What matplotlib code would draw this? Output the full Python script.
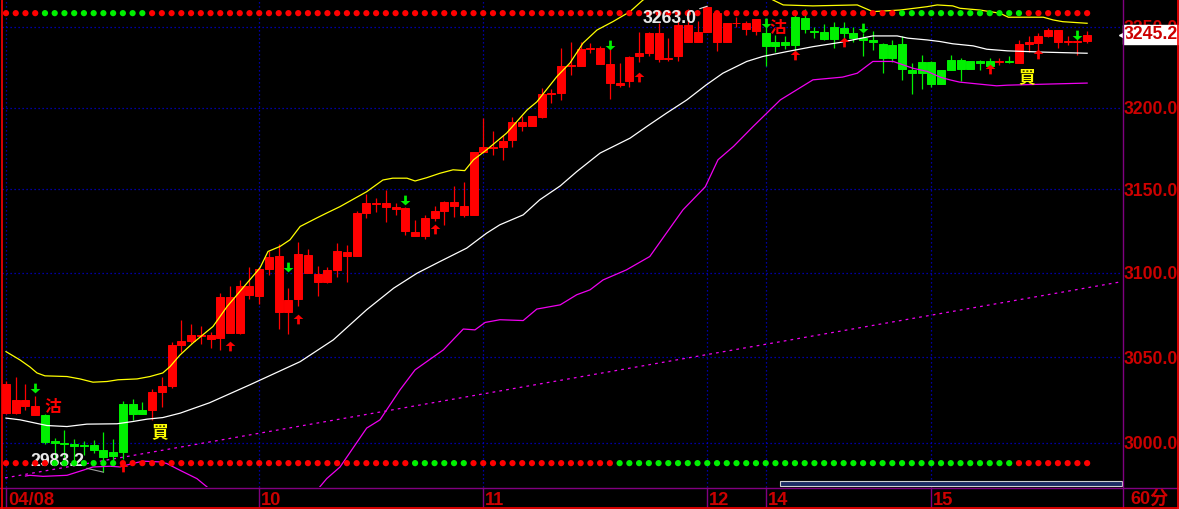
import matplotlib
matplotlib.use('Agg')
import matplotlib.pyplot as plt
import matplotlib.ticker as mticker
from matplotlib.path import Path
from matplotlib.transforms import blended_transform_factory, offset_copy
from matplotlib.patches import Rectangle
from matplotlib.lines import Line2D
import numpy as np

# ---------------- data ----------------
opens = [3017.5, 3017.5, 3021.5, 3016.3, 3016.3, 3001.2, 3000.2, 2999.6, 2999.0, 2998.8,
         2995.9, 2994.9, 2994.9, 3022.7, 3016.9, 3019.2, 3029.3, 3032.8, 3057.2, 3059.5,
         3062.7, 3060.7, 3061.5, 3085.2, 3064.1, 3092.1, 3086.3, 3102.2, 3110.0, 3076.3,
         3084.2, 3110.6, 3099.2, 3094.6, 3101.6, 3112.4, 3110.0, 3135.6, 3141.2, 3139.6,
         3139.2, 3138.8, 3124.4, 3122.0, 3133.0, 3137.0, 3142.4, 3140.0, 3134.6, 3173.0,
         3175.5, 3175.5, 3180.2, 3191.4, 3188.8, 3194.1, 3208.4, 3209.2, 3225.8, 3225.8,
         3236.1, 3237.1, 3227.0, 3215.1, 3216.1, 3231.6, 3234.0, 3246.4, 3229.9, 3231.6,
         3251.3, 3240.9, 3247.1, 3258.6, 3240.9, 3252.3, 3252.7, 3247.7, 3246.0, 3238.3,
         3240.9, 3238.8, 3255.8, 3247.5, 3247.0, 3242.3, 3249.6, 3246.4, 3243.3, 3242.0,
         3239.5, 3230.5, 3239.5, 3223.3, 3221.2, 3227.9, 3214.6, 3223.3, 3229.6, 3223.8,
         3228.5, 3225.8, 3228.2, 3229.0, 3227.5, 3239.5, 3239.9, 3244.4, 3248.1, 3240.3,
         3241.5, 3241.5]
highs = [3036.0, 3038.4, 3034.3, 3027.4, 3016.5, 3002.9, 3007.6, 3002.2, 3001.2, 3001.7,
         3006.6, 3002.3, 3024.4, 3025.6, 3024.0, 3031.4, 3038.6, 3059.1, 3072.0, 3069.6,
         3068.0, 3065.0, 3087.8, 3091.7, 3095.6, 3103.2, 3103.5, 3112.6, 3117.0, 3090.8,
         3118.4, 3114.2, 3104.0, 3103.2, 3117.6, 3116.4, 3137.0, 3147.2, 3144.6, 3149.6,
         3142.0, 3139.6, 3131.6, 3134.6, 3140.0, 3143.2, 3152.1, 3154.7, 3173.0, 3193.6,
         3185.7, 3183.2, 3194.1, 3194.5, 3194.5, 3212.0, 3211.3, 3237.1, 3240.3, 3240.9,
         3239.9, 3238.0, 3237.7, 3227.5, 3232.0, 3247.1, 3247.1, 3252.7, 3243.3, 3254.4,
         3261.0, 3253.9, 3263.0, 3258.6, 3252.3, 3256.1, 3254.0, 3255.0, 3250.0, 3245.0,
         3244.4, 3260.6, 3261.1, 3250.2, 3251.9, 3253.3, 3253.3, 3250.2, 3246.2, 3247.5,
         3239.9, 3241.9, 3244.4, 3227.5, 3232.6, 3228.5, 3223.3, 3232.6, 3230.6, 3228.5,
         3229.6, 3230.6, 3230.6, 3232.0, 3241.9, 3244.4, 3246.0, 3249.2, 3248.1, 3244.4,
         3242.5, 3247.5]
lows = [3017.0, 3017.0, 3019.2, 3016.0, 2999.4, 2990.1, 2988.9, 2989.1, 2993.0, 2994.2,
        2983.2, 2988.4, 2991.0, 3013.4, 3016.9, 3013.4, 3021.1, 3032.0, 3053.2, 3058.2,
        3057.8, 3055.2, 3054.2, 3064.1, 3063.7, 3084.4, 3081.4, 3098.6, 3066.6, 3063.7,
        3080.2, 3099.5, 3086.2, 3093.7, 3097.3, 3094.6, 3109.6, 3132.6, 3136.6, 3130.6,
        3134.6, 3122.6, 3122.0, 3120.0, 3131.2, 3128.6, 3133.6, 3133.6, 3134.6, 3172.1,
        3171.0, 3168.0, 3175.5, 3185.4, 3188.8, 3193.8, 3202.7, 3204.7, 3220.2, 3225.8,
        3233.6, 3227.0, 3205.1, 3212.6, 3212.6, 3227.9, 3232.0, 3227.9, 3228.5, 3228.5,
        3240.9, 3240.9, 3246.7, 3235.3, 3240.9, 3249.8, 3245.0, 3245.0, 3225.8, 3234.6,
        3236.1, 3232.6, 3246.0, 3243.0, 3241.9, 3237.1, 3243.0, 3240.9, 3232.0, 3235.6,
        3221.6, 3227.9, 3216.7, 3208.4, 3211.3, 3212.6, 3214.6, 3223.3, 3216.5, 3223.8,
        3223.3, 3225.8, 3226.4, 3227.5, 3227.5, 3234.6, 3235.6, 3244.0, 3237.1, 3238.8,
        3232.6, 3239.9]
closes = [3034.0, 3025.0, 3025.0, 3021.5, 3000.8, 3000.0, 2999.2, 2998.4, 2998.4, 2995.9,
          2992.0, 2992.4, 3022.7, 3016.9, 3019.2, 3029.3, 3032.8, 3057.2, 3059.5, 3062.7,
          3062.1, 3062.7, 3085.2, 3064.1, 3092.1, 3086.8, 3102.2, 3109.2, 3076.3, 3083.8,
          3111.2, 3099.6, 3094.6, 3101.6, 3112.6, 3110.0, 3136.0, 3141.6, 3142.0, 3141.6,
          3138.4, 3124.6, 3122.0, 3133.0, 3137.0, 3142.6, 3140.0, 3134.6, 3173.0, 3175.5,
          3175.0, 3179.6, 3191.4, 3188.8, 3194.5, 3208.4, 3208.9, 3225.8, 3226.4, 3236.1,
          3237.1, 3227.0, 3215.4, 3214.0, 3231.2, 3234.0, 3246.0, 3229.9, 3230.9, 3251.3,
          3240.9, 3247.1, 3262.7, 3240.9, 3252.3, 3252.7, 3248.6, 3254.8, 3238.3, 3240.9,
          3238.8, 3256.4, 3248.6, 3246.7, 3242.5, 3250.2, 3246.4, 3243.3, 3241.9, 3240.3,
          3230.9, 3238.8, 3223.8, 3221.6, 3227.9, 3214.6, 3223.3, 3229.6, 3223.8, 3228.5,
          3227.5, 3228.5, 3229.0, 3227.9, 3239.5, 3240.3, 3244.4, 3248.1, 3240.3, 3241.5,
          3240.9, 3245.2]
# candle colour per bar (r = red, g = green)
candle_colors = ("rrrr" "ggggggggggg"
                 "rrrrrrrrrrrrrrrrrrrrrrrrrrrrrrrrrrrrrrrrrrrrrrrrrrrrrrrrrrrrrrr"
                 "gggggggggggggggggggggggg" "r" "g" "rrrrrrrr")
# signal dots, top and bottom rows
top_dots = ("rrrr" "ggggggggggg"
            "rrrrrrrrrrrrrrrrrrrrrrrrrrrrrrrrrrrrrrrrrrrrrrrrrrrrrrrrrrrrrrrrrrrrrrrrrrrrr"
            "ggggggggggggg" "rrrrrrr")
bottom_dots = ("rrrrr" "ggggggg" "rrrrrrrrrrrrrrrrrrrrrrrrrrrrrr" "gggggg"
               "rrrrrrrrrrrrrrr" "ggggggggggggggggggggggggggggggggggggggggg" "rrrrrrrr")

# bands (bar position, value)
upper_i = [0, 1.44, 2.46, 3.18, 4.0, 6.26, 7.6, 8.93, 10.37, 11.5, 13.45, 14.78, 16.1, 16.84,
           17.86, 19.2, 21.25, 22.7, 24.33, 26.08, 26.9, 28.13, 29.16, 30.2, 31.93, 32.96,
           34.3, 37.03, 38.7, 39.7, 41.17, 42.0, 43.2, 44.56, 45.9, 47.1, 48.0, 49.35, 51.4,
           53.5, 54.5, 56.57, 57.9, 59.24, 60.68, 62.3, 64.07, 65.4, 67, 70, 73, 76, 78.75,
           79.8, 82.85, 87.4, 89.0, 91.8, 94.56, 95.6, 97.2, 97.95, 100.0, 102.05, 102.9,
           106.5, 107.5, 108.5, 111.0]
upper_v = [3053.2, 3048.3, 3044.2, 3040.7, 3039.0, 3038.6, 3037.2, 3035.3, 3035.7, 3036.7,
           3037.2, 3038.6, 3040.7, 3044.4, 3051.2, 3058.3, 3068.0, 3079.8, 3090.9, 3102.8,
           3112.6, 3115.6, 3119.6, 3127.6, 3132.8, 3135.8, 3139.6, 3148.6, 3155.7, 3156.8,
           3156.8, 3155.1, 3157.1, 3159.8, 3161.9, 3161.4, 3168.0, 3174.1, 3184.3, 3198.5,
           3203.5, 3219.2, 3227.5, 3239.9, 3248.1, 3253.3, 3259.6, 3266.9, 3272.0, 3278.0,
           3280.0, 3276.0, 3266.9, 3263.8, 3263.2, 3263.8, 3259.6, 3260.6, 3262.7, 3263.8,
           3263.2, 3261.7, 3260.6, 3258.6, 3256.1, 3256.1, 3254.4, 3253.3, 3252.3]
mid_i = [0, 1.44, 2.77, 4.2, 6.26, 8.3, 11.4, 13.0, 14.5, 16.1, 17.9, 20.9, 25.05, 30.2, 33.6,
         37.03, 39.8, 42.2, 44.56, 47.3, 49.35, 50.7, 53.1, 54.8, 56.9, 58.6, 61.0, 64.07,
         65.8, 67.8, 69.9, 71.9, 73.6, 76.05, 77.7, 80.15, 82.85, 85.6, 89.0, 91.5, 92.6,
         94.56, 95.9, 97.2, 99.3, 100.7, 102.8, 106.5, 111.0]
mid_v = [3014.4, 3013.4, 3011.8, 3010.1, 3009.5, 3010.9, 3011.1, 3012.4, 3013.8, 3014.7,
         3017.3, 3023.3, 3033.8, 3047.3, 3060.1, 3077.9, 3090.7, 3099.6, 3106.6, 3114.6,
         3123.6, 3128.6, 3134.6, 3143.7, 3152.1, 3160.8, 3172.1, 3181.2, 3188.4, 3196.5,
         3204.7, 3214.0, 3221.2, 3228.5, 3231.6, 3234.6, 3237.7, 3240.3, 3244.4, 3244.4,
         3243.0, 3241.9, 3240.9, 3239.5, 3238.2, 3236.1, 3235.1, 3234.3, 3233.6]
lower_i = [2.0, 2.46, 3.8, 6.26, 7.9, 8.93, 10.7, 11.7, 13.0, 14.07, 15.8, 16.5, 17.86, 19.6,
           20.8, 24, 28, 31.5, 32.93, 34.3, 37.03, 38.4, 40.45, 42.0, 44.9, 46.95, 48.15,
           49.2, 50.72, 53.1, 54.5, 56.9, 58.6, 59.96, 61.3, 63.7, 66.1, 67.8, 69.5, 71.8,
           73.1, 74.7, 76.7, 79.5, 82.85, 85.9, 87.4, 89.0, 91.1, 92.1, 93.1, 94.6, 95.9,
           96.9, 97.9, 99.7, 101.7, 102.8, 106.5, 111.0]
lower_v = [2981.0, 2981.4, 2980.8, 2981.4, 2984.3, 2986.2, 2986.6, 2986.2, 2988.2, 2989.5,
           2989.1, 2988.2, 2984.3, 2979.5, 2974.0, 2966.0, 2962.0, 2970.0, 2979.5, 2986.2,
           3008.6, 3013.4, 3030.8, 3042.5, 3054.2, 3066.5, 3066.0, 3070.4, 3072.0, 3071.5,
           3078.3, 3080.8, 3086.8, 3089.7, 3095.6, 3101.6, 3109.6, 3123.6, 3137.6, 3151.6,
           3168.0, 3176.2, 3188.3, 3204.7, 3217.1, 3218.8, 3221.2, 3228.5, 3228.5, 3226.4,
           3224.3, 3222.3, 3218.8, 3217.1, 3215.7, 3214.6, 3213.4, 3213.8, 3214.4, 3215.1]
# dotted trend line end points
trend_i = [-0.1, 114.6]
trend_v = [2979.9, 3094.6]

day_idx = [0, 26, 49, 72, 78, 95]
day_labels = ["04/08", "10", "11", "12", "14", "15"]
yticks = [3000, 3050, 3100, 3150, 3200, 3250]
period_label = "60分"

sell_idx = [3, 29, 41, 62, 78, 88, 110]
sell_price = [3031.7, 3103.1, 3143.5, 3238.8, 3252.2, 3249.1, 3245.0]
buy_idx = [12, 23, 30, 44, 65, 81, 86, 101, 106]
buy_price = [2986.0, 3056.6, 3072.6, 3126.2, 3218.9, 3232.6, 3240.3, 3223.8, 3233.2]
buy_text_idx = [15.8, 104.8]
buy_text_price = [3006.4, 3218.9]
sell_text_idx = [4.8, 79.2]
sell_text_price = [3020.7, 3249.4]
buy_word, sell_word = "買", "沽"

last_price = 3245.2
high_idx, high_val = 72, 3263.0
low_idx, low_val = 10, 2983.2

# ---------------- style ----------------
RED = '#ff0000'
GREEN = '#00f000'
YELLOW = '#ffff00'
MAGENTA = '#f000f0'
GRIDBLUE = '#0000d8'
AXRED = '#cc0000'
PURPLE = '#800080'
LAB = 'Liberation Sans'
CJK = ['Noto Sans CJK TC', 'DejaVu Sans']

W, H = 1179, 509
fig = plt.figure(figsize=(W / 100, H / 100), dpi=100, facecolor='black')
ax = fig.add_axes([2 / W, 22 / H, 1120 / W, 487 / H])
ax.set_facecolor('black')
for s in ax.spines.values():
    s.set_visible(False)

ax.set_yscale('log')
ax.set_ylim(2974.7, 3266.9)
ax.set_xlim(-0.41, 114.58)
ax.yaxis.set_major_locator(mticker.FixedLocator(yticks))
ax.yaxis.set_major_formatter(mticker.FuncFormatter(lambda v, p: f'{v:.1f}'))
ax.yaxis.set_minor_locator(mticker.NullLocator())
ax.yaxis.set_minor_formatter(mticker.NullFormatter())
ax.yaxis.tick_right()
ax.tick_params(axis='y', length=0, pad=0.8, labelcolor=AXRED, labelsize=12.7)
for t in ax.get_yticklabels():
    t.set_fontfamily(LAB)
    t.set_fontweight('bold')
ax.set_xticks([])

tr = blended_transform_factory(ax.transData, ax.transAxes)

# grid
for v in yticks:
    ax.axhline(v, color=GRIDBLUE, lw=0.9, linestyle=(0, (1, 2.2)), zorder=1)
for d in day_idx:
    ax.axvline(d, color=GRIDBLUE, lw=0.9, linestyle=(0, (1, 2.2)), zorder=1)

# trend line
ax.plot(trend_i, trend_v, color=MAGENTA, lw=0.9, linestyle=(0, (2.2, 3.3)), zorder=2)

# candles
n = len(opens)
x = np.arange(n)
o = np.array(opens); c = np.array(closes)
cols = [RED if k == 'r' else GREEN for k in candle_colors]
ax.vlines(x, lows, highs, colors=cols, lw=0.9, zorder=3)
ax.bar(x, np.abs(c - o), bottom=np.minimum(o, c), width=0.82, color=cols,
       edgecolor=cols, linewidth=0.7, zorder=3)

# bands
ax.plot(upper_i, upper_v, color=YELLOW, lw=0.9, zorder=4)
ax.plot(mid_i, mid_v, color='white', lw=0.9, zorder=4)
ax.plot(lower_i, lower_v, color=MAGENTA, lw=0.9, zorder=4)

# low annotation (drawn beneath the dots, as in the reference)
ax.annotate(f'{low_val:.1f}', xy=(low_idx, low_val), xytext=(-33.4, 7.8),
            textcoords='offset points', ha='center', va='center', color='#e8e8e8',
            fontsize=12.7, family=LAB, fontweight='bold', zorder=4.5,
            arrowprops=dict(arrowstyle='-', color='#a0a0a0', lw=0.8, shrinkA=0, shrinkB=0))

# dots
ax.scatter(x, np.full(n, 0.973), transform=tr, s=20, linewidths=0, zorder=5,
           c=[RED if k == 'r' else GREEN for k in top_dots])
ax.scatter(x, np.full(n, 0.049), transform=tr, s=20, linewidths=0, zorder=5,
           c=[RED if k == 'r' else GREEN for k in bottom_dots])

# arrows
up_v = [(-0.28, -1), (0.28, -1), (0.28, 0.1), (1, 0.1), (0, 1), (-1, 0.1), (-0.28, 0.1), (-0.28, -1)]
codes = [Path.MOVETO] + [Path.LINETO] * 6 + [Path.CLOSEPOLY]
up_arrow = Path(up_v, codes)
down_arrow = Path([(px, -py) for px, py in up_v], codes)
ax.plot(buy_idx, buy_price, linestyle='none', marker=up_arrow, ms=7, color=RED,
        mec=RED, mew=0, zorder=6)
ax.plot(sell_idx, sell_price, linestyle='none', marker=down_arrow, ms=7, color=GREEN,
        mec=GREEN, mew=0, zorder=6)

for xi, yi in zip(buy_text_idx, buy_text_price):
    ax.text(xi, yi, buy_word, color=YELLOW, fontsize=12, family=CJK, fontweight='bold',
            ha='center', va='center', zorder=7)
for xi, yi in zip(sell_text_idx, sell_text_price):
    ax.text(xi, yi, sell_word, color=RED, fontsize=12, family=CJK, fontweight='bold',
            ha='center', va='center', zorder=7)

# high annotation
ax.annotate(f'{high_val:.1f}', xy=(high_idx, high_val), xytext=(-26.9, -8.8),
            textcoords='offset points', ha='center', va='center', color='#e8e8e8',
            fontsize=12.7, family=LAB, fontweight='bold', zorder=8,
            arrowprops=dict(arrowstyle='-', color='#e0e0e0', lw=0.8, shrinkA=0, shrinkB=0))

# last price box
tr_r = blended_transform_factory(ax.transAxes, ax.transData)
ax.text(1.0, last_price, f'{last_price:.1f}', transform=offset_copy(tr_r, fig=fig, x=2, y=0, units='dots'),
        ha='left', va='center', color=AXRED, fontsize=12.7, family=LAB, fontweight='bold',
        zorder=10, clip_on=False,
        bbox=dict(boxstyle='square,pad=0.06', fc='white', ec='white'))
ax.plot([1.0], [last_price], transform=tr_r, marker='<', ms=4, color='white', clip_on=False, zorder=10)

# x labels and ticks
for d, lab in zip(day_idx, day_labels):
    ax.text(d, -0.027, lab, transform=offset_copy(tr, fig=fig, x=2, y=0, units='dots'),
            ha='left', va='center', color=AXRED, fontsize=13.2, family=LAB,
            fontweight='bold', clip_on=False)
ax.vlines(day_idx, -0.042, 0, transform=tr, colors=PURPLE, lw=1, clip_on=False)
fig.text(1149 / W, 1 - 499 / H, period_label, color=AXRED, fontsize=13, ha='center', va='center',
         family=[LAB, 'Noto Sans CJK SC'], fontweight='bold')

# frame lines
fig.add_artist(Line2D([0, 1], [1 - 487.5 / H] * 2, transform=fig.transFigure, color=PURPLE, lw=1))
fig.add_artist(Line2D([1122.5 / W] * 2, [0, 1], transform=fig.transFigure, color=PURPLE, lw=1))
fig.add_artist(Rectangle((780 / W, 1 - 485.7 / H), 341.7 / W, 4.7 / H, transform=fig.transFigure,
                         fc='#1c2c64', ec='#d0d0d0', lw=0.8))
fig.add_artist(Line2D([1.5 / W] * 2, [0, 1], transform=fig.transFigure, color=RED, lw=1.2))
fig.add_artist(Line2D([1177.5 / W] * 2, [0, 1], transform=fig.transFigure, color=RED, lw=1.2))
fig.add_artist(Line2D([0, 1], [1.5 / H] * 2, transform=fig.transFigure, color=RED, lw=1.2))

fig.savefig('out.png', dpi=100, facecolor='black')
